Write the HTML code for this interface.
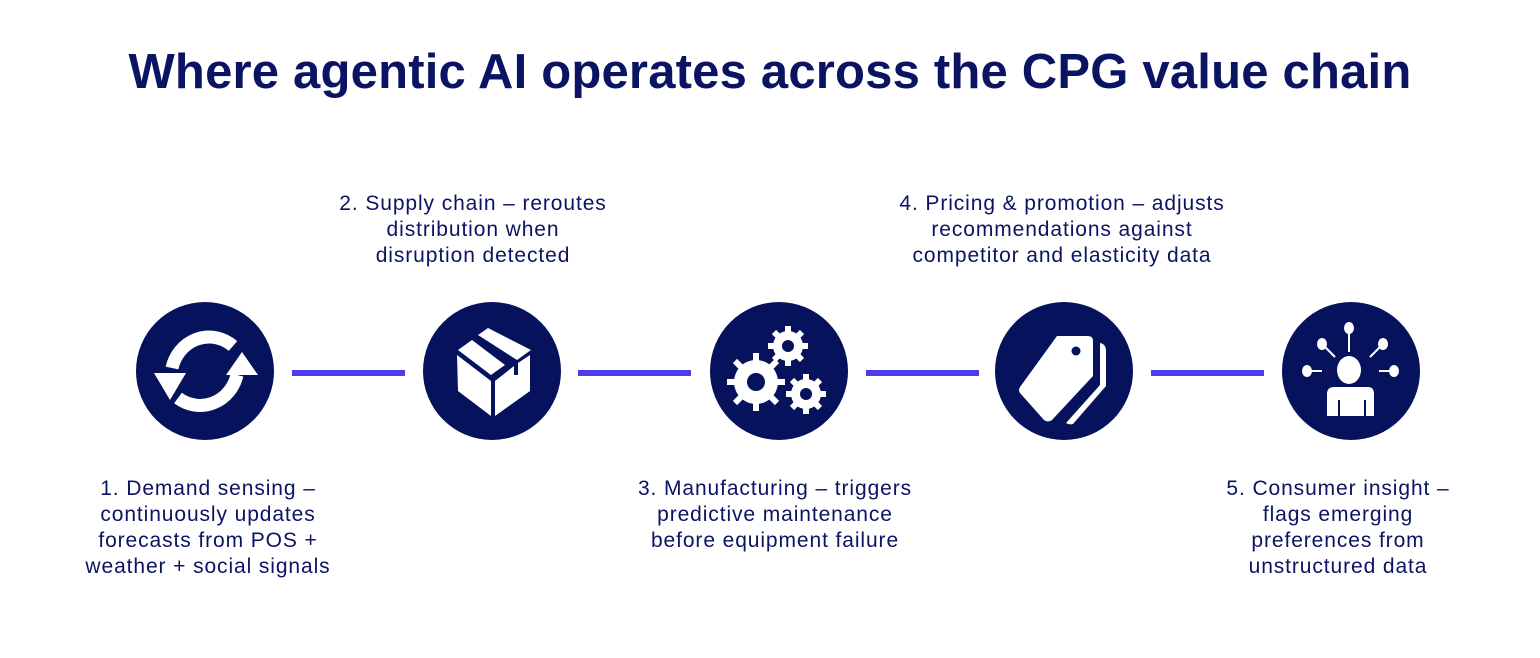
<!DOCTYPE html>
<html><head><meta charset="utf-8"><style>
html,body{margin:0;padding:0;background:#fff;}
body{width:1540px;height:658px;position:relative;overflow:hidden;font-family:"Liberation Sans",sans-serif;color:#0b1462;}
h1{position:absolute;left:0;width:1540px;top:44px;margin:0;text-align:center;font-size:49px;font-weight:bold;color:#0b1462;letter-spacing:0.2px;white-space:nowrap;}
.lbl{position:absolute;width:440px;text-align:center;font-size:21px;line-height:26px;letter-spacing:0.9px;white-space:nowrap;}
</style></head><body>
<h1>Where agentic AI operates across the CPG value chain</h1>
<div class="lbl" style="left:253px;top:191px">2. Supply chain – reroutes<br>distribution when<br>disruption detected</div>
<div class="lbl" style="left:842px;top:191px">4. Pricing &amp; promotion – adjusts<br>recommendations against<br>competitor and elasticity data</div>
<div class="lbl" style="left:-12px;top:476px">1. Demand sensing –<br>continuously updates<br>forecasts from POS +<br>weather + social signals</div>
<div class="lbl" style="left:555px;top:476px">3. Manufacturing – triggers<br>predictive maintenance<br>before equipment failure</div>
<div class="lbl" style="left:1118px;top:476px">5. Consumer insight –<br>flags emerging<br>preferences from<br>unstructured data</div>
<svg width="1540" height="658" style="position:absolute;left:0;top:0">
<g fill="#4f3bef">
<rect x="292" y="370" width="113" height="6"/>
<rect x="578" y="370" width="113" height="6"/>
<rect x="866" y="370" width="113" height="6"/>
<rect x="1151" y="370" width="113" height="6"/>
</g>
<g fill="#06125c">
<circle cx="205" cy="371" r="69"/>
<circle cx="492" cy="371" r="69"/>
<circle cx="779" cy="371" r="69"/>
<circle cx="1064" cy="371" r="69"/>
<circle cx="1351" cy="371" r="69"/>
</g>
<g fill="none" stroke="#fff" stroke-width="13">
<path d="M233 346 A38 40 0 0 0 172 368"/>
<path d="M178 398 A38 40 0 0 0 237 375"/>
</g>
<g fill="#fff">
<polygon points="154,373 186,373 170,400"/>
<polygon points="226,375 258,375 242,352"/>
</g>
<g fill="#fff">
<polygon points="457,355 491,381 491,416 458,391"/>
<polygon points="495,381 514,366 514,375 518,375 518,363 530,355 530,391 495,416"/>
<polygon points="458,350 472,340 505,365 491,375"/>
<polygon points="478,335 488,328 531,350 517,360"/>
</g>
<g fill="#fff">
<circle cx="788" cy="346" r="15"/>
<circle cx="756" cy="382" r="22"/>
<circle cx="806" cy="394" r="15"/>
</g>
<g stroke="#fff" stroke-width="6">
<path d="M788 326v40M768 346h40M774 332l28 28M802 332l-28 28"/>
<path d="M756 353v58M727 382h58M735 361l42 42M777 361l-42 42"/>
<path d="M806 374v40M786 394h40M792 380l28 28M820 380l-28 28"/>
</g>
<g fill="#06125c">
<circle cx="788" cy="346" r="6"/>
<circle cx="756" cy="382" r="9"/>
<circle cx="806" cy="394" r="6"/>
</g>
<g fill="#fff">
<path d="M1057 336 L1088 336 Q1093 336 1093 341 L1093 376 L1052 420 Q1048 423 1044 420 L1020 393 Q1018 390 1020 387 Z"/>
<path d="M1100 343 Q1106 344 1106 351 L1106 386 L1073 424 Q1069 425 1066 423 L1100 385 Z"/>
</g>
<circle cx="1076" cy="351" r="4.5" fill="#06125c"/>
<g fill="#fff">
<ellipse cx="1349" cy="370" rx="12" ry="14"/>
<path d="M1327 416 L1327 394 Q1327 387 1334 387 L1368 387 Q1374 387 1374 394 L1374 416 L1366 416 L1366 400 L1364 400 L1364 416 L1340 416 L1340 400 L1338 400 L1338 416 Z"/>
<ellipse cx="1349" cy="328" rx="5" ry="6"/>
<ellipse cx="1322" cy="344" rx="5" ry="6"/>
<ellipse cx="1383" cy="344" rx="5" ry="6"/>
<ellipse cx="1307" cy="371" rx="5" ry="6"/>
<ellipse cx="1394" cy="371" rx="5" ry="6"/>
</g>
<g stroke="#fff" stroke-width="2">
<path d="M1349 332v20M1322 344l13 13M1383 344l-13 13M1307 371h15M1394 371h-15"/>
</g>
</svg>
</body></html>
